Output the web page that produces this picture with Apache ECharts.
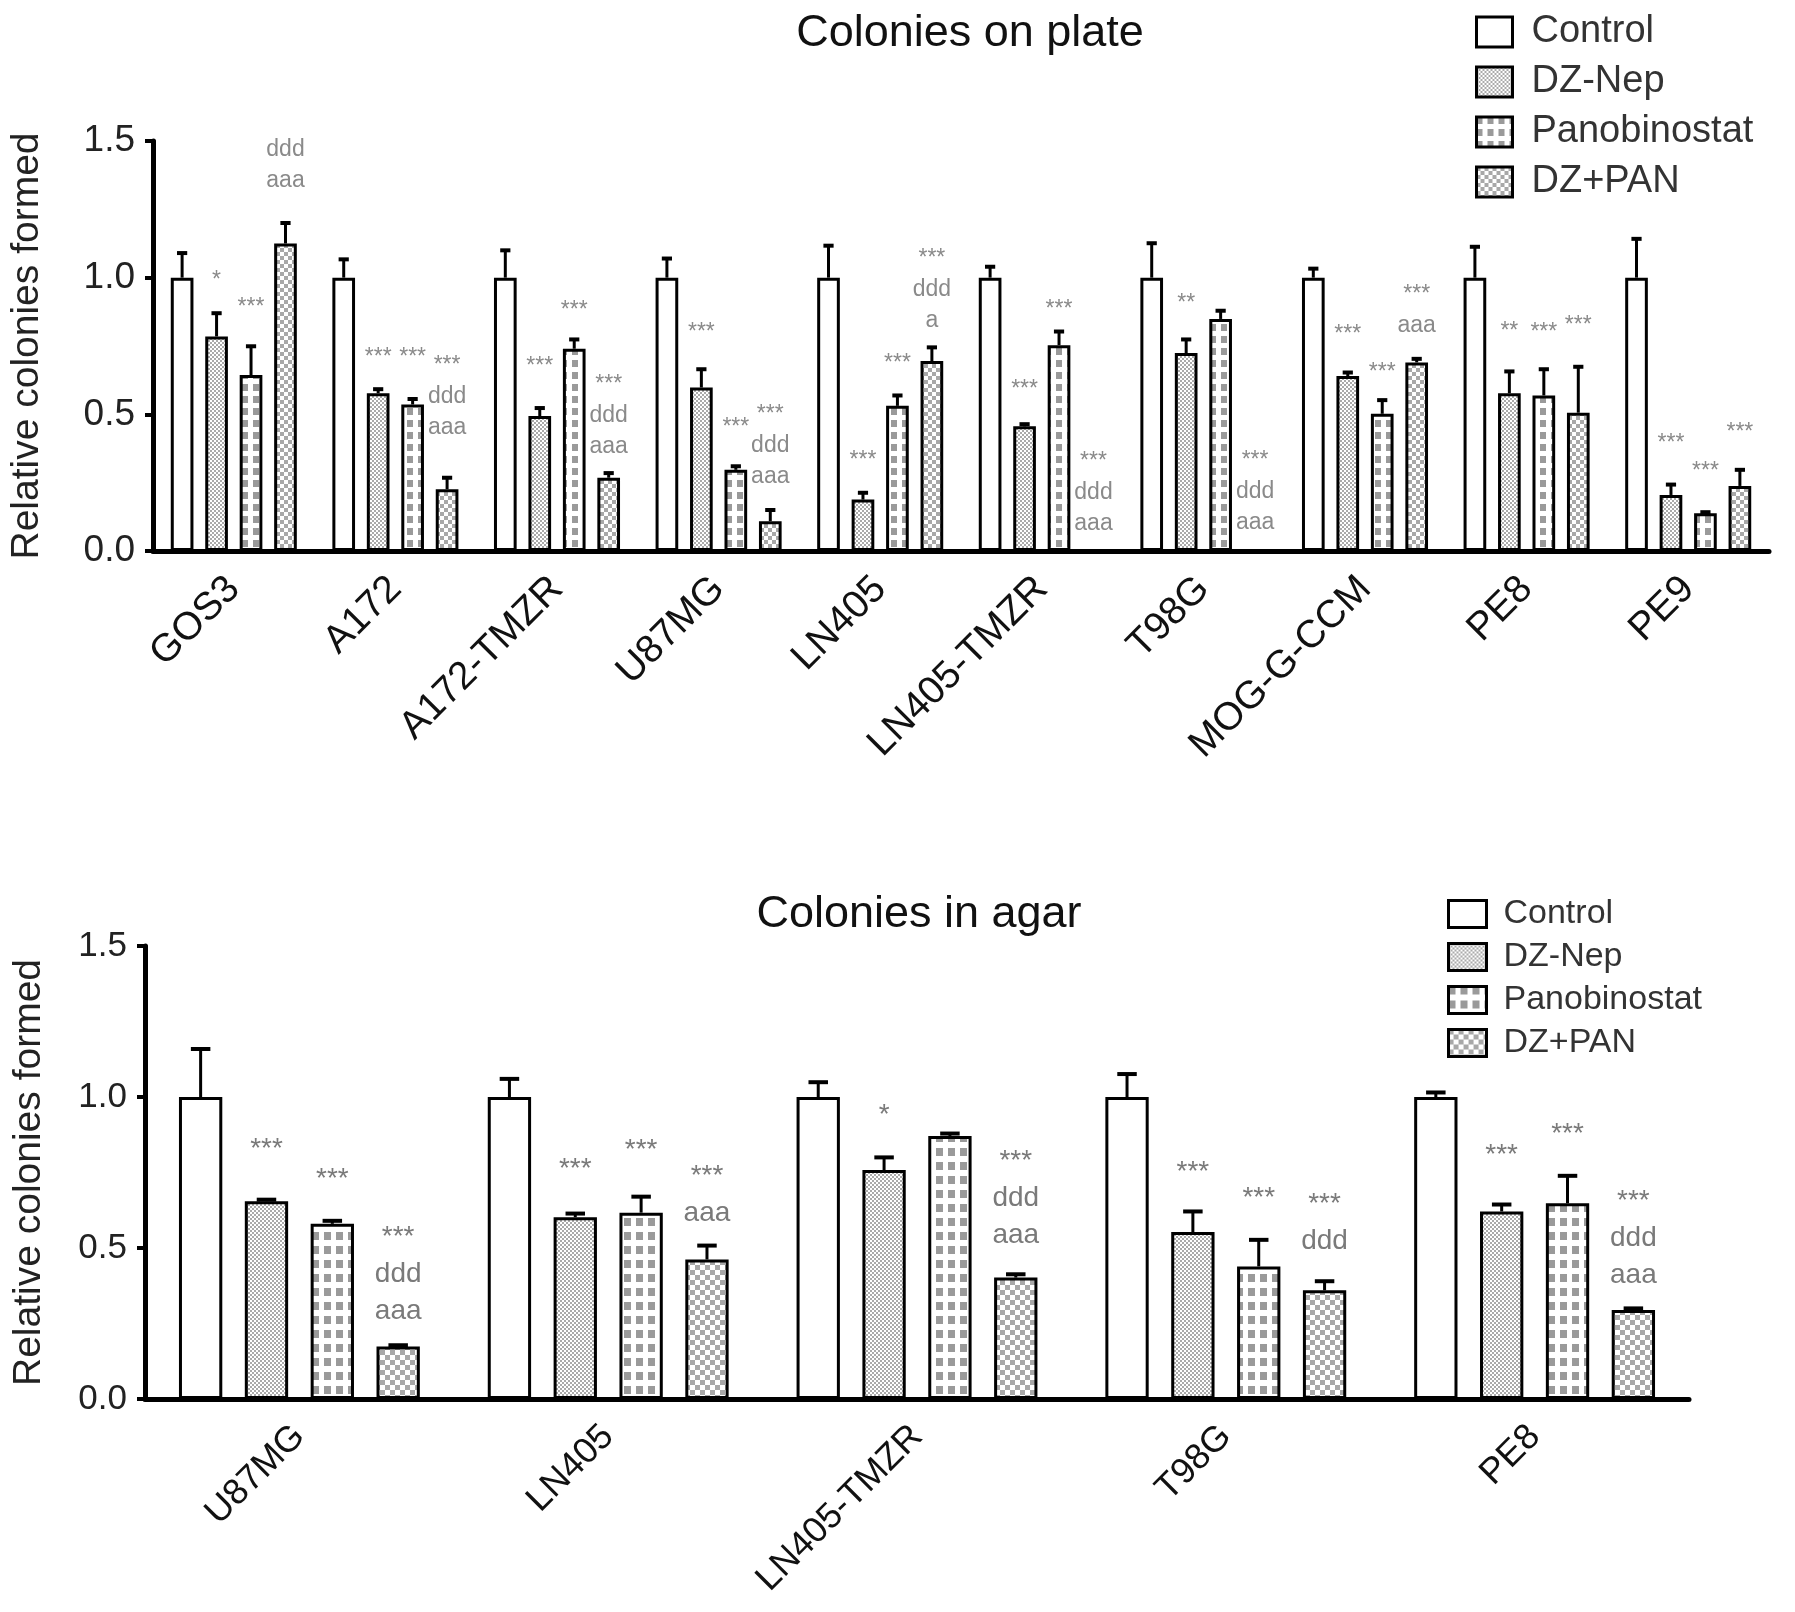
<!DOCTYPE html>
<html><head><meta charset="utf-8">
<script src="https://cdn.jsdelivr.net/npm/echarts@6/dist/echarts.min.js"></script>
<style>html,body{margin:0;padding:0;background:#fff}#c{width:1795px;height:1612px}</style>
</head><body><div id="c"></div>
<script>
// ---------- data ----------
const seriesNames = ['Control', 'DZ-Nep', 'Panobinostat', 'DZ+PAN'];
const yTicks = [0, 0.5, 1.0, 1.5];

// Top: colonies on plate
const plateCats = ['GOS3', 'A172', 'A172-TMZR', 'U87MG', 'LN405', 'LN405-TMZR', 'T98G', 'MOG-G-CCM', 'PE8', 'PE9'];
const plateControl = [1, 1, 1, 1, 1, 1, 1, 1, 1, 1];
const plateControlErr = [0.09, 0.067, 0.10, 0.07, 0.117, 0.04, 0.126, 0.033, 0.113, 0.142];
const plateDZ = [0.785, 0.577, 0.494, 0.598, 0.188, 0.456, 0.724, 0.64, 0.577, 0.205];
const plateDZErr = [0.085, 0.015, 0.029, 0.067, 0.025, 0.008, 0.05, 0.013, 0.08, 0.038];
const platePAN = [0.644, 0.536, 0.74, 0.297, 0.531, 0.753, 0.849, 0.502, 0.569, 0.138];
const platePANErr = [0.105, 0.02, 0.034, 0.013, 0.038, 0.05, 0.03, 0.05, 0.096, 0.004];
const plateCombo = [1.125, 0.226, 0.268, 0.109, 0.695, 0, 0, 0.69, 0.506, 0.238];
const plateComboErr = [0.075, 0.042, 0.017, 0.041, 0.05, 0, 0, 0.013, 0.168, 0.059];
// significance annotations (text and y position of first line)
const plateDZNote = ['*', '***', '***', '***', '***', '***', '**', '***', '**', '***'];
const plateDZNoteY = [1.008, 0.728, 0.695, 0.82, 0.351, 0.611, 0.925, 0.812, 0.824, 0.414];
const platePANNote = ['***', '***', '***', '***', '***', '***', '', '***', '***', '***'];
const platePANNoteY = [0.912, 0.728, 0.90, 0.473, 0.707, 0.904, null, 0.674, 0.82, 0.31];
const plateComboNote = ['ddd\naaa', '***\nddd\naaa', '***\nddd\naaa', '***\nddd\naaa', '***\nddd\na', '***\nddd\naaa', '***\nddd\naaa', '***\naaa', '***', '***'];
const plateComboNoteY = [1.469, 0.699, 0.628, 0.519, 1.088, 0.347, 0.351, 0.958, 0.845, 0.452];

// Bottom: colonies in agar
const agarCats = ['U87MG', 'LN405', 'LN405-TMZR', 'T98G', 'PE8'];
const agarControl = [1, 1, 1, 1, 1];
const agarControlErr = [0.159, 0.06, 0.049, 0.076, 0.015];
const agarDZ = [0.655, 0.602, 0.758, 0.553, 0.621];
const agarDZErr = [0.005, 0.012, 0.042, 0.068, 0.023];
const agarPAN = [0.58, 0.617, 0.871, 0.439, 0.648];
const agarPANErr = [0.01, 0.053, 0.008, 0.088, 0.091];
const agarCombo = [0.174, 0.462, 0.402, 0.36, 0.295];
const agarComboErr = [0.004, 0.046, 0.011, 0.03, 0.005];
const agarDZNote = ['***', '***', '*', '***', '***'];
const agarDZNoteY = [0.848, 0.784, 0.962, 0.773, 0.83];
const agarPANNote = ['***', '***', '', '***', '***'];
const agarPANNoteY = [0.75, 0.845, null, 0.686, 0.898];
const agarComboNote = ['***\nddd\naaa', '***\naaa', '***\nddd\naaa', '***\nddd', '***\nddd\naaa'];
const agarComboNoteY = [0.557, 0.761, 0.81, 0.667, 0.678];

// ---------- patterns ----------
function makePattern(kind, s) {
  const c = document.createElement('canvas');
  const ctx = c.getContext('2d');
  if (kind === 'white') { c.width = c.height = 4; ctx.fillStyle = '#fff'; ctx.fillRect(0, 0, 4, 4); }
  else if (kind === 'fine') {
    c.width = c.height = 4; ctx.fillStyle = '#fff'; ctx.fillRect(0, 0, 4, 4);
    ctx.fillStyle = '#aaaaaa'; ctx.fillRect(0, 0, 2, 2); ctx.fillRect(2, 2, 2, 2);
  } else if (kind === 'grid') {
    const w = s.w, h = s.h; c.width = w; c.height = h;
    ctx.fillStyle = '#fff'; ctx.fillRect(0, 0, w, h);
    ctx.fillStyle = '#9a9a9a'; ctx.fillRect(0, 0, s.sw, s.sh);
  } else if (kind === 'check') {
    const q = s.q; c.width = c.height = 2 * q;
    ctx.fillStyle = '#fff'; ctx.fillRect(0, 0, 2 * q, 2 * q);
    ctx.fillStyle = '#a8a8a8'; ctx.fillRect(0, 0, q, q); ctx.fillRect(q, q, q, q);
  }
  return { image: c, repeat: 'repeat' };
}
const plateFills = [makePattern('white'), makePattern('fine'), makePattern('grid', { w: 11, h: 12, sw: 6, sh: 7 }), makePattern('check', { q: 4 })];
const agarFills = [makePattern('white'), makePattern('fine'), makePattern('grid', { w: 12, h: 14, sw: 7, sh: 8 }), makePattern('check', { q: 5 })];

// ---------- build ----------
const FONT = 'Liberation Sans, Arial, Helvetica, sans-serif';
const CAT_GAP = 0.22, BAR_GAP = 0.52;

function barOffset(api, i) {
  const band = api.size([1, 0])[0];
  const groupW = band * (1 - CAT_GAP);
  const barW = groupW / (4 + 3 * BAR_GAP);
  return { off: -groupW / 2 + barW / 2 + i * barW * (1 + BAR_GAP), barW: barW };
}

function buildPanel(gi, cats, vals, errs, notes, noteYs, fills, fontSize, lineH, noteColor) {
  const series = [];
  seriesNames.forEach((n, i) => {
    series.push({
      type: 'bar', name: n, xAxisIndex: gi, yAxisIndex: gi, data: vals[i],
      barCategoryGap: (CAT_GAP * 100) + '%', barGap: (BAR_GAP * 100) + '%',
      itemStyle: { color: fills[i], borderColor: '#000', borderWidth: 3 },
      emphasis: { disabled: true }, z: 2
    });
  });
  const errData = [];
  vals.forEach((arr, si) => arr.forEach((v, ci) => { if (errs[si][ci] > 0) errData.push([ci, v, v + errs[si][ci], si]); }));
  series.push({
    type: 'custom', xAxisIndex: gi, yAxisIndex: gi, data: errData, z: 3, silent: true,
    renderItem: function (params, api) {
      const ci = api.value(0), si = api.value(3);
      const o = barOffset(api, si);
      const p0 = api.coord([ci, api.value(1)]);
      const p1 = api.coord([ci, api.value(2)]);
      const x = p0[0] + o.off, cap = o.barW * 0.45;
      return {
        type: 'group', children: [
          { type: 'line', shape: { x1: x, y1: p0[1], x2: x, y2: p1[1] }, style: { stroke: '#000', lineWidth: 3 } },
          { type: 'line', shape: { x1: x - cap / 2, y1: p1[1], x2: x + cap / 2, y2: p1[1] }, style: { stroke: '#000', lineWidth: 4 } }
        ]
      };
    }
  });
  const noteData = [], noteTexts = [];
  notes.forEach((arr, k) => arr.forEach((t, ci) => {
    if (t) { noteData.push([ci, noteYs[k][ci], k + 1]); noteTexts.push(t); }
  }));
  series.push({
    type: 'custom', xAxisIndex: gi, yAxisIndex: gi, data: noteData, z: 4, silent: true,
    renderItem: function (params, api) {
      const ci = api.value(0), si = api.value(2);
      const o = barOffset(api, si);
      const p = api.coord([ci, api.value(1)]);
      const txt = noteTexts[params.dataIndex];
      const shift = txt.charAt(0) === '*' ? fontSize * 0.24 : 0;
      return {
        type: 'text',
        style: {
          x: p[0] + o.off, y: p[1] - lineH / 2 + shift, text: txt,
          textAlign: 'center', textVerticalAlign: 'top',
          font: fontSize + 'px ' + FONT, fill: noteColor, lineHeight: lineH
        }
      };
    }
  });
  return series;
}

const plateSeries = buildPanel(0, plateCats,
  [plateControl, plateDZ, platePAN, plateCombo],
  [plateControlErr, plateDZErr, platePANErr, plateComboErr],
  [plateDZNote, platePANNote, plateComboNote],
  [plateDZNoteY, platePANNoteY, plateComboNoteY],
  plateFills, 23, 31, '#8a8a8a');
const agarSeries = buildPanel(1, agarCats,
  [agarControl, agarDZ, agarPAN, agarCombo],
  [agarControlErr, agarDZErr, agarPANErr, agarComboErr],
  [agarDZNote, agarPANNote, agarComboNote],
  [agarDZNoteY, agarPANNoteY, agarComboNoteY],
  agarFills, 28, 37, '#7a7a7a');

function xAxis(gi, cats, fs, margin) {
  return {
    type: 'category', gridIndex: gi, data: cats, boundaryGap: true,
    axisLine: { lineStyle: { color: '#000', width: 5 } },
    axisTick: { alignWithLabel: true, length: 10, lineStyle: { color: '#000', width: 3 } },
    axisLabel: { interval: 0, rotate: 45, fontSize: fs, color: '#111', fontFamily: FONT, margin: margin },
    splitLine: { show: false }
  };
}
function yAxis(gi, fs, nameFs, gap) {
  return {
    type: 'value', gridIndex: gi, min: yTicks[0], max: yTicks[yTicks.length - 1], interval: 0.5,
    name: 'Relative colonies formed', nameLocation: 'middle', nameGap: gap,
    nameTextStyle: { fontSize: nameFs, color: '#222', fontFamily: FONT },
    axisLine: { show: true, lineStyle: { color: '#000', width: 5 } },
    axisTick: { show: true, length: 8, lineStyle: { color: '#000', width: 4 } },
    axisLabel: { fontSize: fs, color: '#222', fontFamily: FONT, margin: 18, formatter: v => v.toFixed(1) },
    splitLine: { show: false }
  };
}

function legend(left, top, w, h, gap, fs, fills, pad) {
  return {
    orient: 'vertical', left: left, top: top, itemWidth: w, itemHeight: h, itemGap: gap,
    icon: 'rect', selectedMode: false,
    textStyle: { fontSize: fs, color: '#333', fontFamily: FONT, padding: [0, 0, 0, pad] },
    data: seriesNames.map((n, i) => ({ name: n, itemStyle: { color: fills[i], borderColor: '#000', borderWidth: 3 } }))
  };
}

const option = {
  backgroundColor: '#fff',
  animation: false,
  title: [
    { text: 'Colonies on plate', left: 965, top: 6, textAlign: 'center', textStyle: { fontSize: 45, fontWeight: 'normal', color: '#111', fontFamily: FONT } },
    { text: 'Colonies in agar', left: 914, top: 887, textAlign: 'center', textStyle: { fontSize: 45, fontWeight: 'normal', color: '#111', fontFamily: FONT } }
  ],
  legend: [
    legend(1470, 8, 36, 30, 12, 38, plateFills, 14),
    legend(1442, 892, 38, 27, 9, 34, agarFills, 12)
  ],
  grid: [
    { left: 152, right: 26, top: 141, height: 410 },
    { left: 145, right: 106, top: 946, height: 453 }
  ],
  xAxis: [xAxis(0, plateCats, 39, 32), xAxis(1, agarCats, 36, 32)],
  yAxis: [yAxis(0, 37, 39, 106), yAxis(1, 35, 39, 96)],
  series: plateSeries.concat(agarSeries)
};
const chart = echarts.init(document.getElementById('c'), null, { renderer: 'canvas' });
chart.setOption(option);
</script></body></html>
